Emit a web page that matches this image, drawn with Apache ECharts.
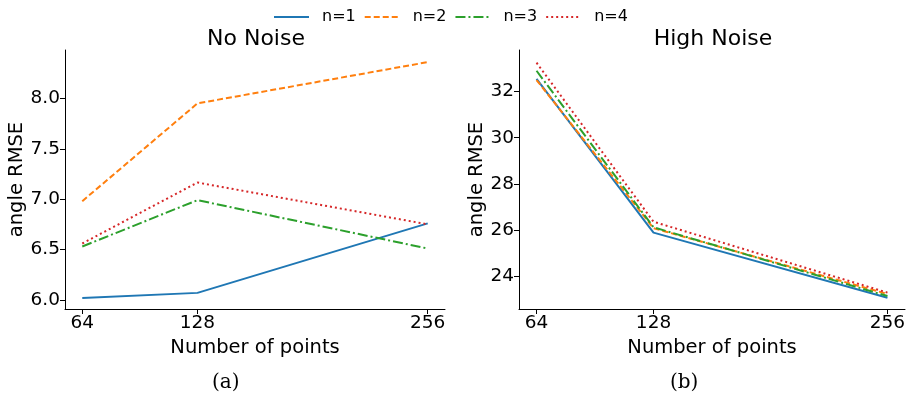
<!DOCTYPE html>
<html><head><meta charset="utf-8">
<script src="https://cdn.jsdelivr.net/npm/echarts@6/dist/echarts.min.js"></script>
<style>html,body{margin:0;padding:0;background:#fff}#c{width:915px;height:402px}</style>
</head><body><div id="c"></div>
<script>
const xPoints = [64, 128, 256];
const seriesNames = ['n=1', 'n=2', 'n=3', 'n=4'];
const noNoise = {
  'n=1': [6.02, 6.07, 6.76],
  'n=2': [6.98, 7.95, 8.36],
  'n=3': [6.53, 6.99, 6.51],
  'n=4': [6.56, 7.165, 6.75]
};
const highNoise = {
  'n=1': [32.55, 25.89, 23.07],
  'n=2': [32.50, 26.08, 23.23],
  'n=3': [32.90, 26.12, 23.14],
  'n=4': [33.25, 26.36, 23.29]
};
const leftYTicks = [6.0, 6.5, 7.0, 7.5, 8.0];
const rightYTicks = [24, 26, 28, 30, 32];
const panelTitles = ['No Noise', 'High Noise'];
const panelLabels = ['(a)', '(b)'];

const colors = ['#1f77b4', '#ff7f0e', '#2ca02c', '#d62728'];
const dashes = ['solid', [6, 3], [10, 3, 2, 3], [2, 3]];
const FONT = 'DejaVu Sans';

function xAxis(idx) {
  return {
    gridIndex: idx, type: 'value', min: 54.4, max: 265.6,
    name: 'Number of points', nameLocation: 'middle', nameGap: 29,
    nameTextStyle: {fontFamily: FONT, fontSize: 19.5, color: '#000'},
    axisLine: {show: true, lineStyle: {color: '#000', width: 1}},
    axisTick: {show: true, customValues: xPoints, length: 5, inside: false, lineStyle: {color: '#000'}},
    axisLabel: {customValues: xPoints, fontFamily: FONT, fontSize: 18.5, color: '#000', margin: 5},
    splitLine: {show: false}
  };
}
function yAxis(idx, min, max, ticks, dec) {
  return {
    gridIndex: idx, type: 'value', min: min, max: max,
    name: 'angle RMSE', nameLocation: 'middle', nameGap: idx === 0 ? 37 : 31,
    nameTextStyle: {fontFamily: FONT, fontSize: 19.5, color: '#000'},
    axisLine: {show: true, lineStyle: {color: '#000', width: 1}},
    axisTick: {show: true, customValues: ticks, length: 5, lineStyle: {color: '#000'}},
    axisLabel: {customValues: ticks, fontFamily: FONT, fontSize: 18.5, color: '#000', margin: 5,
      formatter: v => Number(v).toFixed(dec)},
    splitLine: {show: false}
  };
}
const series = [];
[noNoise, highNoise].forEach((d, gi) => {
  seriesNames.forEach((n, i) => {
    series.push({
      name: n, type: 'line', xAxisIndex: gi, yAxisIndex: gi,
      data: xPoints.map((x, k) => [x, d[n][k]]),
      showSymbol: false, symbol: 'none',
      lineStyle: {color: colors[i], width: 2, type: dashes[i]},
      itemStyle: {color: colors[i]},
      z: 2 + i
    });
  });
});

const chart = echarts.init(document.getElementById('c'), null, {renderer: 'canvas'});
chart.setOption({
  animation: false,
  backgroundColor: '#fff',
  legend: {
    data: seriesNames,
    top: 4, left: 268, itemWidth: 35, itemHeight: 12, itemGap: 8,
    itemStyle: {opacity: 0},
    textStyle: {fontFamily: FONT, fontSize: 16, color: '#000', padding: [0, 0, 0, 8]}
  },
  title: [
    {text: panelTitles[0], left: 251, top: 23, textAlign: 'center', textStyle: {fontFamily: FONT, fontSize: 22, fontWeight: 'normal', color: '#000'}},
    {text: panelTitles[1], left: 708, top: 23, textAlign: 'center', textStyle: {fontFamily: FONT, fontSize: 22, fontWeight: 'normal', color: '#000'}}
  ],
  grid: [
    {left: 65, top: 50, width: 380, height: 259, containLabel: false},
    {left: 519, top: 50, width: 386, height: 259, containLabel: false}
  ],
  xAxis: [xAxis(0), xAxis(1)],
  yAxis: [yAxis(0, 5.91, 8.48, leftYTicks, 1), yAxis(1, 22.58, 33.8, rightYTicks, 0)],
  graphic: [
    {type: 'text', left: 212, top: 373, style: {text: panelLabels[0], font: '20px "DejaVu Serif"', fill: '#000'}},
    {type: 'text', left: 670, top: 373, style: {text: panelLabels[1], font: '20px "DejaVu Serif"', fill: '#000'}}
  ],
  series: series
});
</script></body></html>
